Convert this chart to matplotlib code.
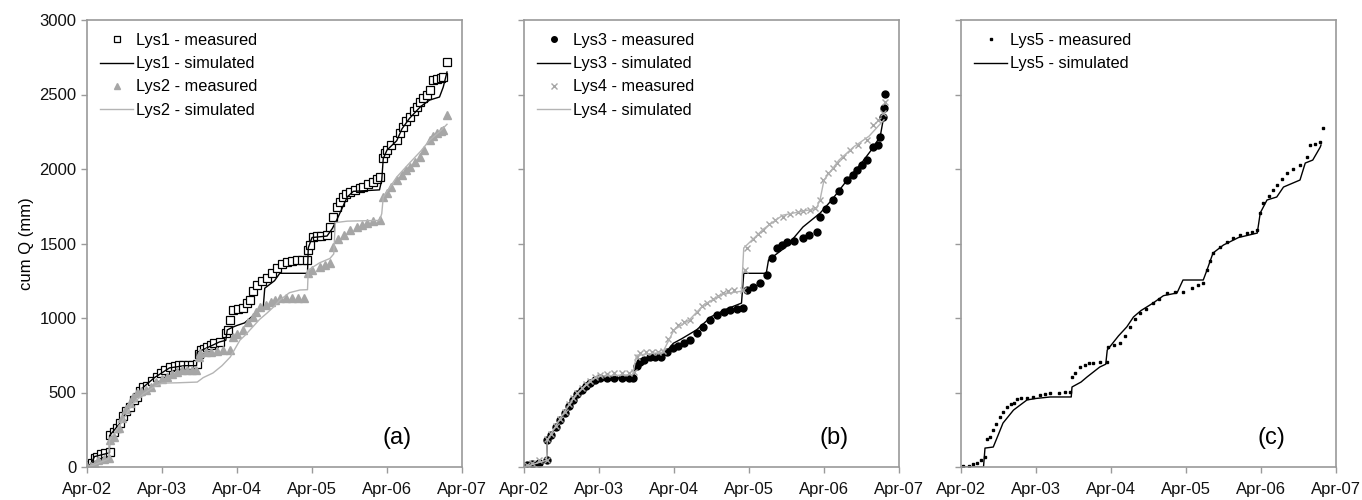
import numpy as np
import matplotlib
matplotlib.use("Agg")
import matplotlib.pyplot as plt

plt.rcParams['font.family'] = ['Liberation Sans', 'DejaVu Sans']

# x = years since April 2002
tick_labels = ['Apr-02', 'Apr-03', 'Apr-04', 'Apr-05', 'Apr-06', 'Apr-07']

# ---- panel (a) ----
lys1_meas_t = [0.0, 0.03, 0.06, 0.1, 0.13, 0.18, 0.24, 0.3, 0.31, 0.36, 0.4, 0.44, 0.48, 0.52, 0.57, 0.62, 0.66,
               0.7, 0.75, 0.8, 0.86, 0.93, 0.98, 1.04, 1.11, 1.17, 1.22, 1.28, 1.34, 1.4, 1.47, 1.49, 1.52, 1.56,
               1.6, 1.65, 1.7, 1.77, 1.85, 1.88, 1.91, 1.95, 2.01, 2.08, 2.13, 2.17, 2.21, 2.27, 2.33, 2.4, 2.47,
               2.53, 2.6, 2.67, 2.73, 2.8, 2.87, 2.93, 2.95, 2.97, 3.01, 3.06, 3.12, 3.2, 3.24, 3.28, 3.33, 3.37,
               3.41, 3.46, 3.51, 3.58, 3.64, 3.68, 3.75, 3.81, 3.87, 3.91, 3.95, 3.98, 4.0, 4.06, 4.13, 4.17, 4.21,
               4.26, 4.31, 4.36, 4.4, 4.44, 4.48, 4.53, 4.57, 4.61, 4.67, 4.72, 4.75, 4.8]
lys1_meas_q = [0, 15, 25, 60, 70, 85, 95, 100, 215, 235, 260, 295, 340, 375, 400, 450, 470,
               510, 537, 545, 580, 604, 630, 650, 671, 680, 685, 685, 685, 685, 690, 760, 785, 795,
               805, 820, 830, 840, 900, 920, 987, 1054, 1060, 1067, 1100, 1120, 1180, 1221, 1245, 1268, 1300,
               1335, 1360, 1376, 1385, 1389, 1389, 1392, 1456, 1490, 1544, 1550, 1552, 1557, 1611, 1678, 1745, 1780,
               1812, 1830, 1846, 1860, 1870, 1879, 1900, 1913, 1930, 1946, 2073, 2110, 2127, 2160, 2194, 2240, 2282,
               2320, 2349, 2390, 2416, 2450, 2476, 2500, 2530, 2597, 2605, 2612, 2617, 2718]
lys1_sim_t = [0, 0.05, 0.1, 0.3, 0.3, 0.45, 0.6, 0.75, 0.9, 1.1, 1.3, 1.46, 1.47, 1.6, 1.77, 1.85, 1.87, 1.95,
              2.0, 2.1, 2.2, 2.35, 2.37, 2.5, 2.57, 2.94, 2.95, 3.0, 3.2, 3.27, 3.33, 3.47, 3.55, 3.9, 3.93,
              3.95, 4.0, 4.13, 4.2, 4.3, 4.45, 4.57, 4.7, 4.75, 4.8]
lys1_sim_q = [0, 20, 70, 95, 210, 300, 430, 535, 600, 665, 680, 680, 770, 800, 840, 850, 920, 940,
              950, 967, 1010, 1074, 1200, 1250, 1300, 1300, 1470, 1540, 1550, 1600, 1658, 1812, 1850, 1860, 1926,
              2070, 2127, 2190, 2270, 2340, 2420, 2463, 2483, 2550, 2651]
lys2_meas_t = [0, 0.05, 0.1, 0.15, 0.22, 0.29, 0.31, 0.36, 0.42, 0.47, 0.52, 0.57, 0.61, 0.66, 0.72, 0.78, 0.85,
               0.92, 1.0, 1.07, 1.14, 1.2, 1.27, 1.33, 1.4, 1.46, 1.49, 1.51, 1.58, 1.66, 1.74, 1.82, 1.91, 1.95,
               2.0, 2.08, 2.15, 2.21, 2.26, 2.31, 2.38, 2.45, 2.51, 2.57, 2.65, 2.73, 2.81, 2.9, 2.95, 3.0, 3.1,
               3.17, 3.24, 3.28, 3.35, 3.43, 3.51, 3.6, 3.67, 3.73, 3.82, 3.91, 3.95, 4.0, 4.06, 4.13, 4.2, 4.26,
               4.31, 4.38, 4.44, 4.5, 4.57, 4.62, 4.67, 4.72, 4.75, 4.8]
lys2_meas_q = [0, 5, 20, 45, 55, 60, 180, 200, 260, 330, 390, 430, 470, 495, 510, 517, 540,
               570, 590, 604, 625, 640, 648, 651, 651, 652, 740, 765, 770, 775, 778, 782, 785, 873,
               890, 920, 970, 1007, 1040, 1074, 1090, 1105, 1120, 1134, 1136, 1136, 1136, 1136, 1300, 1320, 1342,
               1355, 1369, 1477, 1530, 1560, 1590, 1610, 1625, 1637, 1648, 1658, 1812, 1840, 1880, 1926, 1960, 1990,
               2013, 2045, 2080, 2130, 2194, 2220, 2241, 2255, 2262, 2362]
lys2_sim_t = [0, 0.1, 0.29, 0.3, 0.45, 0.6, 0.75, 0.9, 1.0, 1.2, 1.47, 1.55, 1.68, 1.8, 1.91, 2.04, 2.1, 2.21,
              2.3, 2.4, 2.5, 2.57, 2.7, 2.84, 2.94, 2.95, 3.1, 3.24, 3.29, 3.31, 3.47, 3.9, 3.93, 3.95, 4.13,
              4.3, 4.45, 4.57, 4.7, 4.8]
lys2_sim_q = [0, 15, 55, 180, 290, 420, 490, 540, 563, 565, 570, 600, 631, 680, 738, 852, 880, 940,
              990, 1033, 1080, 1120, 1170, 1188, 1190, 1322, 1370, 1400, 1430, 1640, 1650, 1655, 1700, 1812, 1946,
              2040, 2120, 2194, 2250, 2300]

# ---- panel (b) ----
lys3_meas_t = [0, 0.04, 0.1, 0.2, 0.3, 0.31, 0.36, 0.42, 0.48, 0.54, 0.6, 0.65, 0.71, 0.77, 0.83, 0.88, 0.94,
               1.01, 1.1, 1.2, 1.3, 1.4, 1.45, 1.5, 1.55, 1.6, 1.68, 1.75, 1.83, 1.9, 1.99, 2.05, 2.13, 2.21,
               2.3, 2.39, 2.48, 2.57, 2.66, 2.75, 2.84, 2.92, 2.97, 3.05, 3.15, 3.24, 3.3, 3.37, 3.44, 3.51,
               3.6, 3.72, 3.8, 3.91, 3.95, 4.03, 4.12, 4.2, 4.31, 4.38, 4.44, 4.5, 4.57, 4.65, 4.72, 4.75,
               4.79, 4.8, 4.81]
lys3_meas_q = [0, 13, 20, 30, 47, 181, 215, 270, 315, 360, 410, 450, 490, 520, 545, 563, 585,
               597, 597, 597, 597, 597, 600, 680, 705, 720, 738, 738, 740, 770, 799, 815, 835, 852,
               900, 940, 985, 1020, 1040, 1054, 1062, 1067, 1188, 1210, 1235, 1290, 1400, 1470, 1490, 1510,
               1520, 1537, 1555, 1577, 1678, 1730, 1792, 1850, 1926, 1960, 1993, 2030, 2060, 2147, 2160, 2215,
               2349, 2409, 2503]
lys3_sim_t = [0, 0.3, 0.31, 0.5, 0.7, 0.9, 1.0, 1.45, 1.5, 1.7, 1.85, 1.99, 2.1, 2.3, 2.5, 2.7, 2.9, 2.93,
              3.23, 3.26, 3.5, 3.72, 3.95, 4.1, 4.3, 4.5, 4.65, 4.75, 4.8]
lys3_sim_q = [0, 40, 175, 330, 480, 570, 595, 600, 690, 740, 745, 830, 860, 920, 1010, 1060, 1100, 1300,
              1300, 1389, 1480, 1611, 1705, 1790, 1920, 2040, 2140, 2220, 2360]
lys4_meas_t = [0, 0.04, 0.1, 0.2, 0.3, 0.31, 0.36, 0.42, 0.48, 0.54, 0.6, 0.65, 0.71, 0.77, 0.83, 0.88, 0.94,
               1.01, 1.1, 1.2, 1.3, 1.4, 1.47, 1.5, 1.55, 1.62, 1.7, 1.78, 1.85, 1.92, 1.99, 2.05, 2.13, 2.21,
               2.3, 2.37, 2.44, 2.52, 2.58, 2.65, 2.72, 2.8, 2.92, 2.94, 2.97, 3.05, 3.12, 3.19, 3.27, 3.35,
               3.45, 3.55, 3.65, 3.72, 3.81, 3.88, 3.95, 3.99, 4.06, 4.12, 4.17, 4.25, 4.35, 4.45, 4.57, 4.65,
               4.72, 4.79, 4.81]
lys4_meas_q = [0, 15, 30, 45, 50, 185, 220, 275, 320, 370, 420, 460, 500, 530, 560, 580, 605,
               620, 625, 628, 630, 631, 635, 740, 765, 770, 772, 775, 778, 860, 920, 950, 975, 987,
               1040, 1080, 1100, 1130, 1150, 1168, 1178, 1185, 1188, 1322, 1470, 1530, 1565, 1590, 1630, 1660,
               1678, 1700, 1712, 1718, 1725, 1740, 1792, 1926, 1970, 2010, 2040, 2080, 2127, 2160, 2194, 2295,
               2330, 2376, 2449]
lys4_sim_t = [0, 0.3, 0.31, 0.5, 0.7, 0.9, 1.0, 1.45, 1.5, 1.85, 1.95, 2.0, 2.2, 2.4, 2.65, 2.9, 2.93, 3.2,
              3.45, 3.9, 3.95, 4.0, 4.2, 4.4, 4.6, 4.8]
lys4_sim_q = [0, 45, 180, 340, 490, 585, 610, 620, 750, 770, 870, 920, 985, 1090, 1160, 1180, 1470, 1600,
              1690, 1735, 1800, 1926, 2060, 2150, 2220, 2330]

# ---- panel (c) ----
lys5_meas_t = [0.03, 0.1, 0.16, 0.21, 0.26, 0.32, 0.34, 0.38, 0.43, 0.47, 0.52, 0.56, 0.61, 0.66, 0.7, 0.75,
               0.8, 0.88, 0.96, 1.05, 1.12, 1.19, 1.3, 1.38, 1.45, 1.48, 1.52, 1.59, 1.65, 1.7, 1.76, 1.85,
               1.95, 1.96, 2.04, 2.12, 2.18, 2.25, 2.32, 2.39, 2.46, 2.56, 2.64, 2.75, 2.85, 2.96, 3.08, 3.16,
               3.23, 3.28, 3.32, 3.36, 3.45, 3.55, 3.63, 3.72, 3.81, 3.88, 3.95, 3.99, 4.03, 4.1, 4.16, 4.21,
               4.28, 4.35, 4.43, 4.52, 4.61, 4.65, 4.72, 4.79, 4.83]
lys5_meas_q = [7, 10, 18, 27, 45, 67, 188, 200, 248, 290, 336, 370, 403, 420, 430, 456,
               460, 465, 470, 485, 492, 497, 500, 502, 503, 604, 630, 671, 685, 695, 698, 702,
               705, 805, 820, 832, 880, 940, 990, 1033, 1060, 1100, 1130, 1168, 1172, 1174, 1200, 1220,
               1235, 1322, 1380, 1436, 1477, 1510, 1537, 1555, 1570, 1580, 1590, 1705, 1772, 1820, 1860, 1893,
               1930, 1973, 2000, 2027, 2080, 2161, 2170, 2181, 2275]
lys5_sim_t = [0, 0.3, 0.32, 0.43, 0.5, 0.56, 0.7, 0.8, 0.88, 1.0, 1.19, 1.47, 1.48, 1.6, 1.68, 1.85, 1.93, 1.95,
              2.1, 2.21, 2.3, 2.4, 2.56, 2.7, 2.88, 2.96, 3.23, 3.28, 3.36, 3.5, 3.7, 3.95, 3.99, 4.08, 4.21,
              4.3, 4.52, 4.59, 4.69, 4.79, 4.8]
lys5_sim_q = [0, 0, 127, 134, 220, 295, 382, 420, 450, 460, 470, 470, 537, 570, 604, 671, 690, 785,
              880, 940, 1007, 1050, 1100, 1150, 1168, 1255, 1255, 1322, 1436, 1490, 1540, 1570, 1705, 1792, 1812,
              1879, 1926, 2040, 2060, 2147, 2161]

GREY = '#a6a6a6'
LGREY = '#b4b4b4'
FRAME = '#9a9a9a'

fig = plt.figure(figsize=(13.62, 5.0), dpi=100)
W, H = 1362.0, 500.0
lefts = [87, 524, 961]
axes = [fig.add_axes([l / W, 33 / H, 375 / W, 447 / H]) for l in lefts]

ax = axes[0]
ax.plot(lys1_meas_t, lys1_meas_q, ls='none', marker='s', ms=5.5, mfc='white', mec='black', mew=0.9,
        label='Lys1 - measured')
ax.plot(lys1_sim_t, lys1_sim_q, color='black', lw=1.0, label='Lys1 - simulated')
ax.plot(lys2_meas_t, lys2_meas_q, ls='none', marker='^', ms=5.5, color=GREY, mec=GREY, label='Lys2 - measured')
ax.plot(lys2_sim_t, lys2_sim_q, color=LGREY, lw=1.0, label='Lys2 - simulated')

ax = axes[1]
ax.plot(lys3_meas_t, lys3_meas_q, ls='none', marker='o', ms=5, color='black', label='Lys3 - measured')
ax.plot(lys3_sim_t, lys3_sim_q, color='black', lw=1.0, label='Lys3 - simulated')
ax.plot(lys4_meas_t, lys4_meas_q, ls='none', marker='x', ms=5, mew=1.0, color=GREY, label='Lys4 - measured')
ax.plot(lys4_sim_t, lys4_sim_q, color=LGREY, lw=1.0, label='Lys4 - simulated')

ax = axes[2]
ax.plot(lys5_meas_t, lys5_meas_q, ls='none', marker='s', ms=2.0, color='black', label='Lys5 - measured')
ax.plot(lys5_sim_t, lys5_sim_q, color='black', lw=1.0, label='Lys5 - simulated')

for i, (ax, tag) in enumerate(zip(axes, ['(a)', '(b)', '(c)'])):
    ax.set_xlim(0, 5)
    ax.set_ylim(0, 3000)
    ax.set_xticks(range(6))
    ax.set_xticklabels(tick_labels)
    ax.set_yticks(range(0, 3001, 500))
    if i > 0:
        ax.set_yticklabels([])
    for s in ax.spines.values():
        s.set_color(FRAME)
        s.set_linewidth(1.2)
    ax.tick_params(axis='both', direction='out', length=4, width=1.0, color=FRAME,
                   labelsize=12, labelcolor='#111111')
    ax.tick_params(axis='x', pad=7)
    ax.text(0.865, 0.04, tag, transform=ax.transAxes, ha='right', va='bottom', fontsize=17)
    ax.legend(loc='upper left', frameon=False, fontsize=11.8, labelspacing=0.5, markerscale=0.8,
              handlelength=2.0, handletextpad=0.2, borderaxespad=0.5, borderpad=0.3)

axes[0].set_ylabel('cum Q (mm)', fontsize=12)

fig.savefig('out.png', dpi=100)
